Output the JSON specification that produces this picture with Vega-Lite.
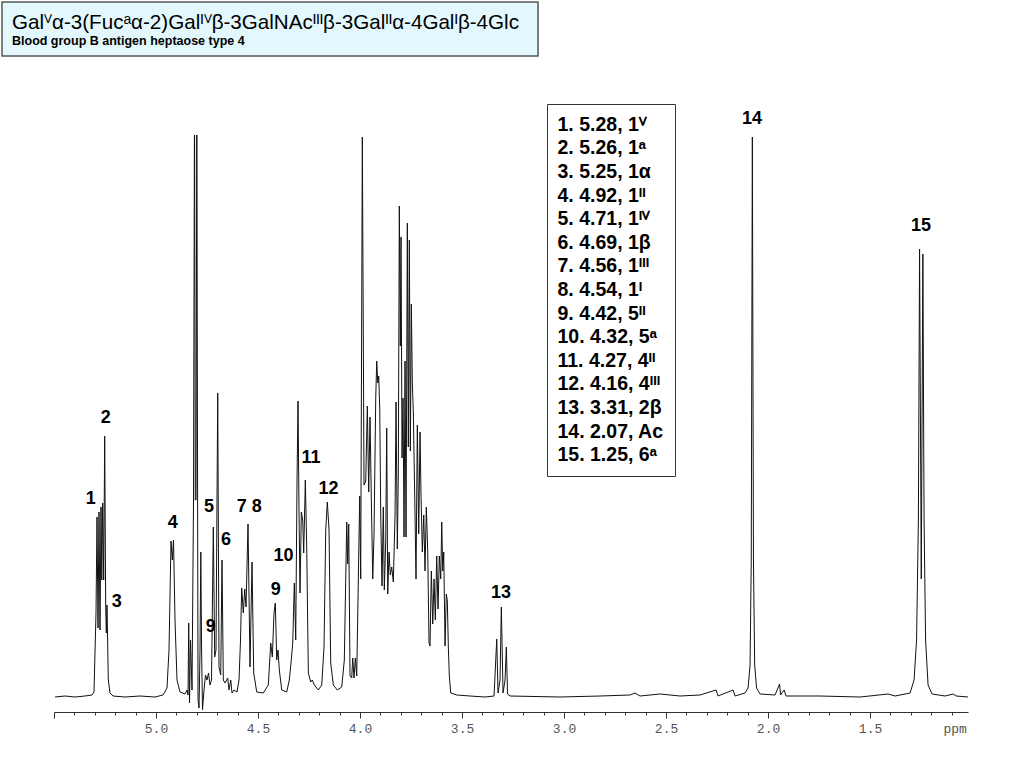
{
  "$schema": "https://vega.github.io/schema/vega-lite/v6.json",
  "description": "1H NMR spectrum of blood group B antigen heptaose type 4 with assigned peaks.",
  "autosize": "none",
  "width": 914,
  "height": 577,
  "padding": {"left": 54, "top": 135, "right": 56, "bottom": 56},
  "background": "white",
  "config": {
    "view": {"stroke": null},
    "font": "Liberation Sans",
    "legend": {
      "orient": "none",
      "legendX": 493,
      "legendY": -31,
      "padding": 11,
      "strokeColor": "#333",
      "fillColor": "white",
      "labelFont": "Liberation Sans",
      "labelFontSize": 19.5,
      "labelFontWeight": "bold",
      "labelColor": "black",
      "labelLimit": 400,
      "labelOffset": -20,
      "rowPadding": 2.6,
      "symbolSize": 0,
      "symbolOpacity": 0,
      "symbolStrokeWidth": 0
    }
  },
  "resolve": {"axis": {"x": "independent"}},
  "datasets": {
    "spectrum": [
      {"ppm": 5.4951, "i": 0}, {"ppm": 5.4461, "i": 1}, {"ppm": 5.3971, "i": 0}, {"ppm": 5.3480, "i": 1},
      {"ppm": 5.3137, "i": 2}, {"ppm": 5.3039, "i": 5}, {"ppm": 5.2941, "i": 84}, {"ppm": 5.2892, "i": 180},
      {"ppm": 5.2843, "i": 69}, {"ppm": 5.2794, "i": 185}, {"ppm": 5.2745, "i": 67}, {"ppm": 5.2696, "i": 190},
      {"ppm": 5.2657, "i": 117}, {"ppm": 5.2613, "i": 194}, {"ppm": 5.2564, "i": 117}, {"ppm": 5.2515, "i": 261},
      {"ppm": 5.2466, "i": 90}, {"ppm": 5.2436, "i": 64}, {"ppm": 5.2402, "i": 92}, {"ppm": 5.2338, "i": 17},
      {"ppm": 5.2255, "i": 4}, {"ppm": 5.2108, "i": 1}, {"ppm": 5.1520, "i": 0}, {"ppm": 5.0784, "i": 1},
      {"ppm": 5.0049, "i": 0}, {"ppm": 4.9657, "i": 2}, {"ppm": 4.9461, "i": 9}, {"ppm": 4.9363, "i": 47},
      {"ppm": 4.9265, "i": 156}, {"ppm": 4.9201, "i": 137}, {"ppm": 4.9142, "i": 157}, {"ppm": 4.9069, "i": 77},
      {"ppm": 4.8971, "i": 17}, {"ppm": 4.8824, "i": 5}, {"ppm": 4.8578, "i": 3}, {"ppm": 4.8480, "i": 7},
      {"ppm": 4.8431, "i": 2}, {"ppm": 4.8397, "i": 74}, {"ppm": 4.8358, "i": -6}, {"ppm": 4.8309, "i": 57},
      {"ppm": 4.8235, "i": 7}, {"ppm": 4.8162, "i": 197}, {"ppm": 4.8113, "i": 600}, {"ppm": 4.8074, "i": 197},
      {"ppm": 4.8039, "i": 197}, {"ppm": 4.8000, "i": 600}, {"ppm": 4.7941, "i": -3}, {"ppm": 4.7892, "i": -11},
      {"ppm": 4.7843, "i": 47}, {"ppm": 4.7804, "i": 145}, {"ppm": 4.7765, "i": 47}, {"ppm": 4.7721, "i": -13},
      {"ppm": 4.7647, "i": 7}, {"ppm": 4.7574, "i": 22}, {"ppm": 4.7500, "i": 17}, {"ppm": 4.7426, "i": 24},
      {"ppm": 4.7353, "i": 12}, {"ppm": 4.7279, "i": 17}, {"ppm": 4.7191, "i": 170}, {"ppm": 4.7123, "i": 40},
      {"ppm": 4.7059, "i": 47}, {"ppm": 4.6975, "i": 304}, {"ppm": 4.6912, "i": 30}, {"ppm": 4.6828, "i": 22},
      {"ppm": 4.6765, "i": 137}, {"ppm": 4.6701, "i": 17}, {"ppm": 4.6618, "i": 14}, {"ppm": 4.6485, "i": 19},
      {"ppm": 4.6422, "i": 7}, {"ppm": 4.6338, "i": 17}, {"ppm": 4.6275, "i": 4}, {"ppm": 4.6176, "i": 7},
      {"ppm": 4.6029, "i": 5}, {"ppm": 4.5931, "i": 17}, {"ppm": 4.5858, "i": 57}, {"ppm": 4.5799, "i": 109},
      {"ppm": 4.5721, "i": 84}, {"ppm": 4.5652, "i": 108}, {"ppm": 4.5588, "i": 90}, {"ppm": 4.5490, "i": 173},
      {"ppm": 4.5392, "i": 30}, {"ppm": 4.5294, "i": 135}, {"ppm": 4.5211, "i": 24}, {"ppm": 4.5064, "i": 5},
      {"ppm": 4.4740, "i": 4}, {"ppm": 4.4495, "i": 12}, {"ppm": 4.4377, "i": 54}, {"ppm": 4.4299, "i": 40},
      {"ppm": 4.4216, "i": 84}, {"ppm": 4.4152, "i": 94}, {"ppm": 4.4083, "i": 37}, {"ppm": 4.4020, "i": 47},
      {"ppm": 4.3956, "i": 27}, {"ppm": 4.3838, "i": 7}, {"ppm": 4.3593, "i": 5}, {"ppm": 4.3466, "i": 17},
      {"ppm": 4.3382, "i": 34}, {"ppm": 4.3299, "i": 54}, {"ppm": 4.3221, "i": 114}, {"ppm": 4.3152, "i": 57},
      {"ppm": 4.3088, "i": 217}, {"ppm": 4.3039, "i": 296}, {"ppm": 4.2990, "i": 184}, {"ppm": 4.2941, "i": 104},
      {"ppm": 4.2877, "i": 185}, {"ppm": 4.2809, "i": 177}, {"ppm": 4.2760, "i": 144}, {"ppm": 4.2681, "i": 217},
      {"ppm": 4.2613, "i": 150}, {"ppm": 4.2534, "i": 24}, {"ppm": 4.2417, "i": 15}, {"ppm": 4.2338, "i": 17},
      {"ppm": 4.2240, "i": 12}, {"ppm": 4.2044, "i": 7}, {"ppm": 4.1877, "i": 12}, {"ppm": 4.1765, "i": 50},
      {"ppm": 4.1681, "i": 167}, {"ppm": 4.1603, "i": 195}, {"ppm": 4.1520, "i": 167}, {"ppm": 4.1436, "i": 34},
      {"ppm": 4.1309, "i": 12}, {"ppm": 4.1113, "i": 7}, {"ppm": 4.0897, "i": 10}, {"ppm": 4.0770, "i": 37},
      {"ppm": 4.0652, "i": 175}, {"ppm": 4.0603, "i": 133}, {"ppm": 4.0554, "i": 173}, {"ppm": 4.0490, "i": 21},
      {"ppm": 4.0407, "i": 19}, {"ppm": 4.0358, "i": 39}, {"ppm": 4.0294, "i": 19}, {"ppm": 4.0230, "i": 39},
      {"ppm": 4.0162, "i": 21}, {"ppm": 4.0083, "i": 118}, {"ppm": 4.0015, "i": 201}, {"ppm": 3.9966, "i": 118},
      {"ppm": 3.9887, "i": 560}, {"ppm": 3.9804, "i": 212}, {"ppm": 3.9721, "i": 216}, {"ppm": 3.9642, "i": 291},
      {"ppm": 3.9574, "i": 205}, {"ppm": 3.9510, "i": 280}, {"ppm": 3.9446, "i": 197}, {"ppm": 3.9377, "i": 118},
      {"ppm": 3.9314, "i": 163}, {"ppm": 3.9230, "i": 299}, {"ppm": 3.9181, "i": 336}, {"ppm": 3.9132, "i": 314},
      {"ppm": 3.9083, "i": 321}, {"ppm": 3.9034, "i": 288}, {"ppm": 3.8985, "i": 182}, {"ppm": 3.8922, "i": 111},
      {"ppm": 3.8858, "i": 190}, {"ppm": 3.8809, "i": 107}, {"ppm": 3.8740, "i": 156}, {"ppm": 3.8691, "i": 269},
      {"ppm": 3.8642, "i": 103}, {"ppm": 3.8578, "i": 145}, {"ppm": 3.8515, "i": 122}, {"ppm": 3.8446, "i": 130},
      {"ppm": 3.8368, "i": 115}, {"ppm": 3.8284, "i": 182}, {"ppm": 3.8235, "i": 295}, {"ppm": 3.8172, "i": 148},
      {"ppm": 3.8123, "i": 224}, {"ppm": 3.8074, "i": 491}, {"ppm": 3.8025, "i": 351}, {"ppm": 3.7990, "i": 460},
      {"ppm": 3.7941, "i": 239}, {"ppm": 3.7892, "i": 299}, {"ppm": 3.7843, "i": 160}, {"ppm": 3.7794, "i": 336},
      {"ppm": 3.7745, "i": 160}, {"ppm": 3.7681, "i": 474}, {"ppm": 3.7632, "i": 250}, {"ppm": 3.7583, "i": 457},
      {"ppm": 3.7534, "i": 246}, {"ppm": 3.7485, "i": 393}, {"ppm": 3.7436, "i": 314}, {"ppm": 3.7387, "i": 284},
      {"ppm": 3.7319, "i": 201}, {"ppm": 3.7255, "i": 118}, {"ppm": 3.7191, "i": 272}, {"ppm": 3.7123, "i": 163},
      {"ppm": 3.7059, "i": 265}, {"ppm": 3.7010, "i": 201}, {"ppm": 3.6946, "i": 145}, {"ppm": 3.6877, "i": 182},
      {"ppm": 3.6814, "i": 126}, {"ppm": 3.6750, "i": 190}, {"ppm": 3.6681, "i": 145}, {"ppm": 3.6618, "i": 54},
      {"ppm": 3.6569, "i": 51}, {"ppm": 3.6505, "i": 126}, {"ppm": 3.6436, "i": 73}, {"ppm": 3.6373, "i": 118},
      {"ppm": 3.6309, "i": 77}, {"ppm": 3.6240, "i": 141}, {"ppm": 3.6176, "i": 88}, {"ppm": 3.6113, "i": 141},
      {"ppm": 3.6044, "i": 118}, {"ppm": 3.5995, "i": 175}, {"ppm": 3.5946, "i": 126}, {"ppm": 3.5897, "i": 145},
      {"ppm": 3.5833, "i": 51}, {"ppm": 3.5770, "i": 103}, {"ppm": 3.5721, "i": 96}, {"ppm": 3.5672, "i": 51},
      {"ppm": 3.5623, "i": 21}, {"ppm": 3.5554, "i": 4}, {"ppm": 3.5260, "i": 2}, {"ppm": 3.4608, "i": 1},
      {"ppm": 3.3873, "i": 0}, {"ppm": 3.3431, "i": 1}, {"ppm": 3.3299, "i": 58}, {"ppm": 3.3235, "i": 4},
      {"ppm": 3.3137, "i": 17}, {"ppm": 3.3074, "i": 90}, {"ppm": 3.2990, "i": 4}, {"ppm": 3.2892, "i": 17},
      {"ppm": 3.2828, "i": 50}, {"ppm": 3.2770, "i": 3}, {"ppm": 3.2647, "i": 1}, {"ppm": 3.0196, "i": 0},
      {"ppm": 2.8235, "i": 1}, {"ppm": 2.6765, "i": 2}, {"ppm": 2.6520, "i": 4}, {"ppm": 2.6275, "i": 1},
      {"ppm": 2.5294, "i": 3}, {"ppm": 2.4314, "i": 1}, {"ppm": 2.3333, "i": 2}, {"ppm": 2.2549, "i": 7},
      {"ppm": 2.2451, "i": 1}, {"ppm": 2.1716, "i": 7}, {"ppm": 2.1618, "i": 1}, {"ppm": 2.1127, "i": 4},
      {"ppm": 2.0980, "i": 9}, {"ppm": 2.0882, "i": 32}, {"ppm": 2.0824, "i": 137}, {"ppm": 2.0770, "i": 560},
      {"ppm": 2.0716, "i": 137}, {"ppm": 2.0657, "i": 32}, {"ppm": 2.0564, "i": 9}, {"ppm": 2.0392, "i": 3},
      {"ppm": 1.9657, "i": 2}, {"ppm": 1.9436, "i": 13}, {"ppm": 1.9387, "i": 2}, {"ppm": 1.9216, "i": 7},
      {"ppm": 1.9118, "i": 1}, {"ppm": 1.7451, "i": 1}, {"ppm": 1.5490, "i": 0}, {"ppm": 1.4118, "i": 3},
      {"ppm": 1.3775, "i": 1}, {"ppm": 1.3039, "i": 4}, {"ppm": 1.2843, "i": 17}, {"ppm": 1.2721, "i": 57},
      {"ppm": 1.2632, "i": 177}, {"ppm": 1.2574, "i": 448}, {"ppm": 1.2490, "i": 118}, {"ppm": 1.2412, "i": 443},
      {"ppm": 1.2353, "i": 177}, {"ppm": 1.2279, "i": 57}, {"ppm": 1.2157, "i": 12}, {"ppm": 1.1961, "i": 3},
      {"ppm": 1.1324, "i": 1}, {"ppm": 1.0931, "i": 3}, {"ppm": 1.0784, "i": 1}, {"ppm": 1.0196, "i": 0}
    ],
    "peaks": [
      {"num": 1, "label": "1", "ppm": 5.3201, "h": 198, "entry": "1. 5.28, 1ⱽ"},
      {"num": 2, "label": "2", "ppm": 5.2466, "h": 279, "entry": "2. 5.26, 1ᵃ"},
      {"num": 3, "label": "3", "ppm": 5.1926, "h": 95, "entry": "3. 5.25, 1α"},
      {"num": 4, "label": "4", "ppm": 4.9181, "h": 174, "entry": "4. 4.92, 1ᴵᴵ"},
      {"num": 5, "label": "5", "ppm": 4.7402, "h": 190, "entry": "5. 4.71, 1ᴵⱽ"},
      {"num": 6, "label": "6", "ppm": 4.6569, "h": 157, "entry": "6. 4.69, 1β"},
      {"num": 7, "label": "7", "ppm": 4.5799, "h": 190, "entry": "7. 4.56, 1ᴵᴵᴵ"},
      {"num": 8, "label": "8", "ppm": 4.5064, "h": 190, "entry": "8. 4.54, 1ᴵ"},
      {"num": 9, "label": "9", "ppm": 4.7319, "h": 70, "entry": "9. 4.42, 5ᴵᴵ"},
      {"num": 9, "label": "9", "ppm": 4.4132, "h": 107, "entry": "9. 4.42, 5ᴵᴵ"},
      {"num": 10, "label": "10", "ppm": 4.3750, "h": 141, "entry": "10. 4.32, 5ᵃ"},
      {"num": 11, "label": "11", "ppm": 4.2402, "h": 239, "entry": "11. 4.27, 4ᴵᴵ"},
      {"num": 12, "label": "12", "ppm": 4.1544, "h": 208, "entry": "12. 4.16, 4ᴵᴵᴵ"},
      {"num": 13, "label": "13", "ppm": 3.3088, "h": 104, "entry": "13. 3.31, 2β"},
      {"num": 14, "label": "14", "ppm": 2.0784, "h": 578, "entry": "14. 2.07, Ac"},
      {"num": 15, "label": "15", "ppm": 1.2500, "h": 471, "entry": "15. 1.25, 6ᵃ"}
    ],
    "heading": [
      {"title": "Galⱽα-3(Fucᵃα-2)Galᴵⱽβ-3GalNAcᴵᴵᴵβ-3Galᴵᴵα-4Galᴵβ-4Glc", "subtitle": "Blood group B antigen heptaose type 4"}
    ]
  },
  "layer": [
    {
      "data": {"name": "heading"},
      "mark": {"type": "rect", "fill": "#E3F8FC", "stroke": "#555", "strokeWidth": 1.5},
      "encoding": {
        "x": {"datum": 5.7549, "type": "quantitative", "axis": null, "scale": {"domain": [1.02, 5.5], "reverse": true, "nice": false, "zero": false}},
        "x2": {"datum": 3.1275},
        "y": {"datum": 695, "type": "quantitative", "axis": null, "scale": {"domain": [-15, 562], "nice": false, "zero": false}},
        "y2": {"datum": 641}
      }
    },
    {
      "data": {"name": "heading"},
      "mark": {"type": "text", "align": "left", "baseline": "alphabetic", "fontSize": 20.6, "fontWeight": "normal", "font": "Liberation Sans", "color": "black"},
      "encoding": {
        "x": {"datum": 5.7059, "type": "quantitative", "axis": null, "scale": {"domain": [1.02, 5.5], "reverse": true, "nice": false, "zero": false}},
        "y": {"datum": 668.5, "type": "quantitative", "axis": null, "scale": {"domain": [-15, 562], "nice": false, "zero": false}},
        "text": {"field": "title"}
      }
    },
    {
      "data": {"name": "heading"},
      "mark": {"type": "text", "align": "left", "baseline": "alphabetic", "fontSize": 12.5, "fontWeight": "bold", "font": "Liberation Sans", "color": "black"},
      "encoding": {
        "x": {"datum": 5.7059, "type": "quantitative", "axis": null, "scale": {"domain": [1.02, 5.5], "reverse": true, "nice": false, "zero": false}},
        "y": {"datum": 652, "type": "quantitative", "axis": null, "scale": {"domain": [-15, 562], "nice": false, "zero": false}},
        "text": {"field": "subtitle"}
      }
    },
    {
      "data": {"name": "spectrum"},
      "mark": {"type": "line", "color": "#111", "strokeWidth": 1, "clip": true},
      "encoding": {
        "x": {
          "field": "ppm",
          "type": "quantitative",
          "scale": {"domain": [1.02, 5.5], "reverse": true, "nice": false, "zero": false},
          "axis": {
            "orient": "bottom",
            "values": [1.5, 2.0, 2.5, 3.0, 3.5, 4.0, 4.5, 5.0, 5.5],
            "labelExpr": "datum.value < 5.25 ? format(datum.value, '.1f') : ''",
            "tickSize": 6,
            "grid": false,
            "domainColor": "#333",
            "tickColor": "#333",
            "labelFont": "Liberation Mono",
            "labelFontSize": 13,
            "labelColor": "#555",
            "labelPadding": 4,
            "labelFlush": false,
            "labelOverlap": false,
            "title": "ppm",
            "titleX": 889,
            "titleY": 16,
            "titleAlign": "left",
            "titleBaseline": "middle",
            "titleFont": "Liberation Mono",
            "titleFontSize": 13,
            "titleFontWeight": "normal",
            "titleColor": "#555"
          }
        },
        "y": {
          "field": "i",
          "type": "quantitative",
          "scale": {"domain": [-15, 562], "nice": false, "zero": false},
          "axis": null
        }
      }
    },
    {
      "data": {"name": "peaks"},
      "mark": {"type": "text", "fontSize": 18, "fontWeight": "bold", "font": "Liberation Sans", "baseline": "middle", "align": "center"},
      "encoding": {
        "x": {
          "field": "ppm",
          "type": "quantitative",
          "scale": {"domain": [1.02, 5.5], "reverse": true, "nice": false, "zero": false},
          "axis": {
            "orient": "bottom",
            "values": [1.1, 1.2, 1.3, 1.4, 1.6, 1.7, 1.8, 1.9, 2.1, 2.2, 2.3, 2.4, 2.6, 2.7, 2.8, 2.9, 3.1, 3.2, 3.3, 3.4, 3.6, 3.7, 3.8, 3.9, 4.1, 4.2, 4.3, 4.4, 4.6, 4.7, 4.8, 4.9, 5.1, 5.2, 5.3, 5.4],
            "tickSize": 3,
            "tickColor": "#333",
            "labels": false,
            "domain": false,
            "grid": false,
            "title": null
          }
        },
        "y": {"field": "h", "type": "quantitative", "axis": null, "scale": {"domain": [-15, 562], "nice": false, "zero": false}},
        "text": {"field": "label"},
        "color": {
          "field": "entry",
          "type": "nominal",
          "scale": {
            "domain": ["1. 5.28, 1ⱽ", "2. 5.26, 1ᵃ", "3. 5.25, 1α", "4. 4.92, 1ᴵᴵ", "5. 4.71, 1ᴵⱽ", "6. 4.69, 1β", "7. 4.56, 1ᴵᴵᴵ", "8. 4.54, 1ᴵ", "9. 4.42, 5ᴵᴵ", "10. 4.32, 5ᵃ", "11. 4.27, 4ᴵᴵ", "12. 4.16, 4ᴵᴵᴵ", "13. 3.31, 2β", "14. 2.07, Ac", "15. 1.25, 6ᵃ"],
            "range": ["black"]
          },
          "legend": {"title": null}
        }
      }
    }
  ]
}
